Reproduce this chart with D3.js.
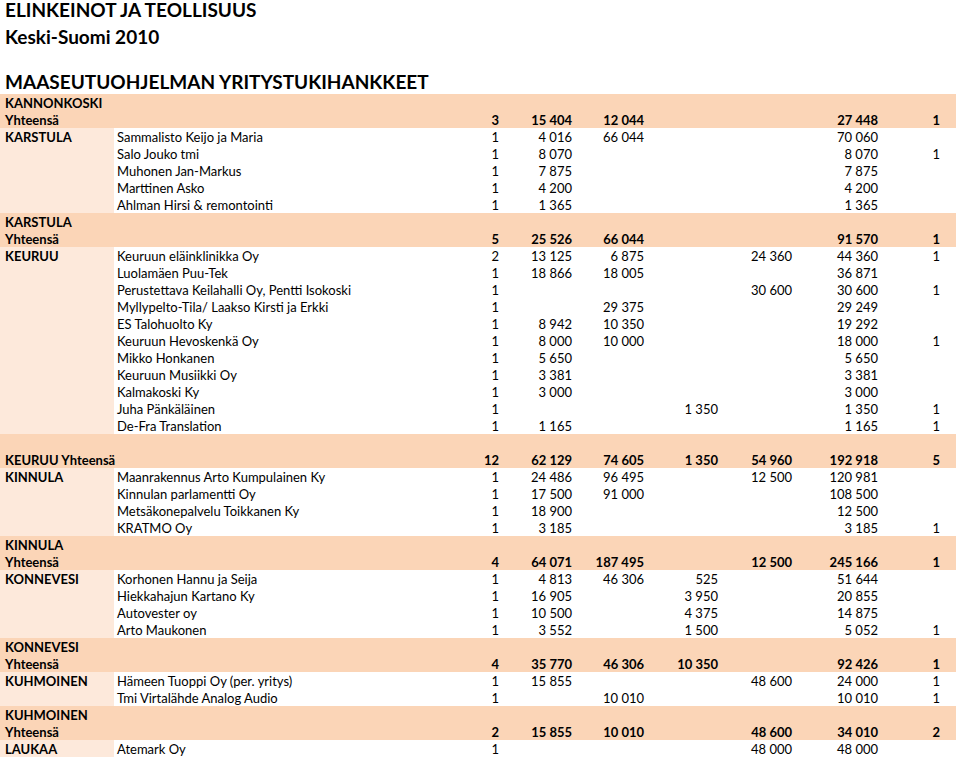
<!DOCTYPE html>
<html>
<head>
<meta charset="utf-8">
<script src="https://cdn.jsdelivr.net/npm/d3@7"></script>
<style>
  body { margin: 0; background: #fff; }
  svg text { font-family: Lato, "Open Sans", sans-serif; fill: #000; }
</style>
</head>
<body>
<div id="chart"></div>
<script>
// rivityypit: band = otsikkorivi, total = yhteensä, data = hanke
const rowTypes = [
  "band", "total",
  "data", "data", "data", "data", "data",
  "band", "total",
  "data", "data", "data", "data", "data", "data", "data", "data", "data", "data", "data",
  "band", "total",
  "data", "data", "data", "data",
  "band", "total",
  "data", "data", "data", "data",
  "band", "total",
  "data", "data",
  "band", "total",
  "data"
];
const places = [
  "KANNONKOSKI", "Yhteensä",
  "KARSTULA", "", "", "", "",
  "KARSTULA", "Yhteensä",
  "KEURUU", "", "", "", "", "", "", "", "", "", "",
  "", "KEURUU Yhteensä",
  "KINNULA", "", "", "",
  "KINNULA", "Yhteensä",
  "KONNEVESI", "", "", "",
  "KONNEVESI", "Yhteensä",
  "KUHMOINEN", "",
  "KUHMOINEN", "Yhteensä",
  "LAUKAA"
];
const companies = [
  "", "",
  "Sammalisto Keijo ja Maria", "Salo Jouko tmi", "Muhonen Jan-Markus", "Marttinen Asko", "Ahlman Hirsi & remontointi",
  "", "",
  "Keuruun eläinklinikka Oy", "Luolamäen Puu-Tek", "Perustettava Keilahalli Oy, Pentti Isokoski",
  "Myllypelto-Tila/ Laakso Kirsti ja Erkki", "ES Talohuolto Ky", "Keuruun Hevoskenkä Oy", "Mikko Honkanen",
  "Keuruun Musiikki Oy", "Kalmakoski Ky", "Juha Pänkäläinen", "De-Fra Translation",
  "", "",
  "Maanrakennus Arto Kumpulainen Ky", "Kinnulan parlamentti Oy", "Metsäkonepalvelu Toikkanen Ky", "KRATMO Oy",
  "", "",
  "Korhonen Hannu ja Seija", "Hiekkahajun Kartano Ky", "Autovester oy", "Arto Maukonen",
  "", "",
  "Hämeen Tuoppi Oy (per. yritys)", "Tmi Virtalähde Analog Audio",
  "", "",
  "Atemark Oy"
];
const counts = [
  null, 3,
  1, 1, 1, 1, 1,
  null, 5,
  2, 1, 1, 1, 1, 1, 1, 1, 1, 1, 1,
  null, 12,
  1, 1, 1, 1,
  null, 4,
  1, 1, 1, 1,
  null, 4,
  1, 1,
  null, 2,
  1
];
const valuesA = [
  null, 15404,
  4016, 8070, 7875, 4200, 1365,
  null, 25526,
  13125, 18866, null, null, 8942, 8000, 5650, 3381, 3000, null, 1165,
  null, 62129,
  24486, 17500, 18900, 3185,
  null, 64071,
  4813, 16905, 10500, 3552,
  null, 35770,
  15855, null,
  null, 15855,
  null
];
const valuesB = [
  null, 12044,
  66044, null, null, null, null,
  null, 66044,
  6875, 18005, null, 29375, 10350, 10000, null, null, null, null, null,
  null, 74605,
  96495, 91000, null, null,
  null, 187495,
  46306, null, null, null,
  null, 46306,
  null, 10010,
  null, 10010,
  null
];
const valuesC = [
  null, null,
  null, null, null, null, null,
  null, null,
  null, null, null, null, null, null, null, null, null, 1350, null,
  null, 1350,
  null, null, null, null,
  null, null,
  525, 3950, 4375, 1500,
  null, 10350,
  null, null,
  null, null,
  null
];
const valuesD = [
  null, null,
  null, null, null, null, null,
  null, null,
  24360, null, 30600, null, null, null, null, null, null, null, null,
  null, 54960,
  12500, null, null, null,
  null, 12500,
  null, null, null, null,
  null, null,
  48600, null,
  null, 48600,
  48000
];
const totals = [
  null, 27448,
  70060, 8070, 7875, 4200, 1365,
  null, 91570,
  44360, 36871, 30600, 29249, 19292, 18000, 5650, 3381, 3000, 1350, 1165,
  null, 192918,
  120981, 108500, 12500, 3185,
  null, 245166,
  51644, 20855, 14875, 5052,
  null, 92426,
  24000, 10010,
  null, 34010,
  48000
];
const extras = [
  null, 1,
  null, 1, null, null, null,
  null, 1,
  1, null, 1, null, null, 1, null, null, null, 1, 1,
  null, 5,
  null, null, null, 1,
  null, 1,
  null, null, null, 1,
  null, 1,
  1, 1,
  null, 2,
  null
];
const titles = ["ELINKEINOT JA TEOLLISUUS", "Keski-Suomi 2010", "MAASEUTUOHJELMAN YRITYSTUKIHANKKEET"];

const width = 960, height = 763;
const rowH = 17, tableTop = 94, tableRight = 956, placeW = 114;
const bandColor = "#fbd5b7", lightColor = "#fde9db";

const svg = d3.select("#chart").append("svg")
  .attr("width", width).attr("height", height);

const y = d3.scaleBand()
  .domain(d3.range(rowTypes.length))
  .range([tableTop, tableTop + rowTypes.length * rowH])
  .padding(0);

// numerosarakkeet, oikea reuna
const numCols = [counts, valuesA, valuesB, valuesC, valuesD, totals, extras];
const x = d3.scaleOrdinal()
  .domain(d3.range(numCols.length))
  .range([499, 572, 644, 718, 792, 878, 940]);

const fmt = d3.formatLocale({ decimal: ",", thousands: " ", grouping: [3], currency: ["", " €"] }).format(",");

// otsikot
svg.selectAll("text.title")
  .data(titles)
  .enter()
  .append("text")
  .attr("class", "title")
  .attr("x", 5)
  .attr("y", (d, i) => [17, 44, 89][i])
  .attr("font-size", 19)
  .attr("font-weight", "bold")
  .text((d) => d);

const idx = d3.range(rowTypes.length);

// taustat
svg.selectAll("rect.band")
  .data(idx.filter((i) => rowTypes[i] !== "data"))
  .enter()
  .append("rect")
  .attr("class", "band")
  .attr("x", 0)
  .attr("y", (i) => y(i))
  .attr("width", tableRight)
  .attr("height", y.bandwidth())
  .attr("fill", bandColor);

svg.selectAll("rect.light")
  .data(idx.filter((i) => rowTypes[i] === "data"))
  .enter()
  .append("rect")
  .attr("class", "light")
  .attr("x", 0)
  .attr("y", (i) => y(i))
  .attr("width", placeW)
  .attr("height", y.bandwidth())
  .attr("fill", lightColor);

const rows = svg.selectAll("g.row")
  .data(idx)
  .enter()
  .append("g")
  .attr("class", "row")
  .attr("transform", (i) => `translate(0, ${y(i) + 13.5})`)
  .attr("font-size", 13)
  .attr("font-weight", (i) => (rowTypes[i] === "data" ? "normal" : "bold"));

rows.append("text")
  .attr("x", 5)
  .attr("font-weight", "bold")
  .text((i) => places[i]);

rows.append("text")
  .attr("x", 117)
  .text((i) => companies[i]);

numCols.forEach((col, c) => {
  rows.append("text")
    .attr("x", x(c))
    .attr("text-anchor", "end")
    .text((i) => (col[i] == null ? "" : fmt(col[i])));
});
</script>
</body>
</html>
